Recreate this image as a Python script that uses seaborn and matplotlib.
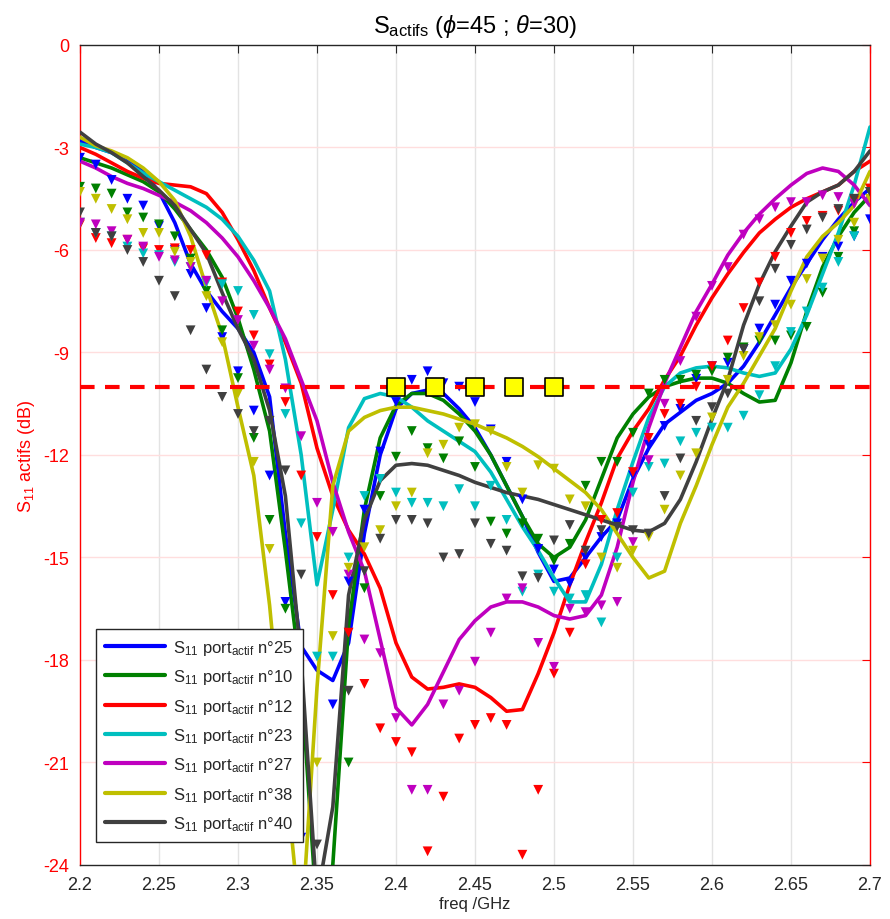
import numpy as np
import pandas as pd
import matplotlib
matplotlib.use("Agg")
import matplotlib.pyplot as plt
from matplotlib.lines import Line2D
import seaborn as sns

# frequences (GHz), un point tous les 10 MHz
freq = np.linspace(2.2, 2.7, 51)

ports = ["25", "10", "12", "23", "27", "38", "40"]
colors = ["#0000ff", "#008000", "#ff0000", "#00bfbf", "#bf00bf", "#bfbf00", "#404040"]

# courbes continues (dB)
curve_25 = [-2.8, -3.0, -3.15, -3.4, -3.7, -4.3, -5.2, -6.4, -7.2, -7.8,
            -8.3, -9.0, -10.3, -14.3, -17.6, -18.3, -18.6, -17.5, -14.3, -12.0,
            -10.65, -10.2, -10.1, -10.2, -10.65, -11.2, -12.0, -12.9, -13.8, -14.85,
            -15.7, -15.6, -15.0, -14.4, -13.9, -12.7, -11.8, -11.1, -10.75, -10.4,
            -10.2, -9.9, -9.4, -8.7, -7.9, -7.1, -6.4, -5.7, -5.1, -4.6, -4.2]
curve_10 = [-3.3, -3.45, -3.6, -3.8, -4.0, -4.3, -4.8, -5.4, -6.0, -6.8,
            -8.0, -9.5, -11.3, -14.8, -18.6, -25.5, -24.0, -17.0, -13.6, -11.5,
            -10.55, -10.2, -10.2, -10.4, -10.8, -11.3, -12.0, -12.9, -13.8, -14.6,
            -15.0, -14.7, -13.9, -12.7, -11.5, -10.8, -10.3, -10.0, -9.85, -9.75,
            -9.75, -9.9, -10.2, -10.45, -10.4, -9.3, -7.8, -6.5, -5.6, -4.9, -4.4]
curve_12 = [-3.0, -3.2, -3.45, -3.7, -3.9, -4.05, -4.1, -4.15, -4.35, -4.9,
            -5.7, -6.6, -7.7, -8.7, -9.9, -11.8, -13.2, -14.2, -14.9, -15.9,
            -17.5, -18.5, -18.85, -18.8, -18.7, -18.8, -19.1, -19.5, -19.45, -18.4,
            -17.2, -15.8, -14.55, -13.4, -12.1, -11.3, -10.65, -9.8, -9.1, -8.2,
            -7.4, -6.7, -6.07, -5.5, -5.1, -4.75, -4.5, -4.3, -4.1, -3.7, -3.4]
curve_23 = [-2.9, -3.0, -3.15, -3.45, -3.75, -4.0, -4.25, -4.5, -4.75, -5.1,
            -5.6, -6.3, -7.2, -9.2, -12.0, -15.8, -13.6, -11.2, -10.35, -10.2,
            -10.3, -10.6, -11.0, -11.3, -11.6, -11.9, -12.5, -13.3, -14.1, -14.8,
            -15.6, -16.3, -16.3, -15.2, -13.6, -12.2, -10.9, -10.0, -9.6, -9.45,
            -9.4, -9.45, -9.6, -9.7, -9.6, -8.9, -7.9, -6.7, -5.5, -4.1, -2.4]
curve_27 = [-3.4, -3.6, -3.85, -4.05, -4.2, -4.4, -4.6, -4.85, -5.2, -5.65,
            -6.2, -6.9, -7.7, -8.6, -9.8, -11.0, -12.8, -14.25, -15.4, -17.4,
            -19.4, -19.9, -19.3, -18.35, -17.4, -16.85, -16.45, -16.3, -16.3, -16.45,
            -16.7, -16.8, -16.7, -16.1, -14.7, -12.8, -11.2, -9.9, -8.85, -7.8,
            -7.0, -6.15, -5.5, -4.95, -4.5, -4.1, -3.76, -3.6, -3.7, -4.1, -4.7]
curve_38 = [-2.7, -2.95, -3.1, -3.3, -3.6, -4.0, -4.55, -5.6, -7.1, -8.5,
            -10.6, -12.6, -16.4, -21.3, -26.0, -18.8, -12.9, -11.3, -10.9, -10.7,
            -10.6, -10.6, -10.7, -10.8, -10.95, -11.1, -11.3, -11.5, -11.75, -12.05,
            -12.4, -12.75, -13.1, -13.6, -14.3, -15.0, -15.6, -15.4, -14.0, -12.9,
            -11.7, -10.6, -9.9, -9.1, -8.3, -7.2, -6.2, -5.6, -5.2, -4.7, -3.7]
curve_40 = [-2.55, -2.9, -3.15, -3.45, -3.85, -4.25, -4.7, -5.4, -6.1, -7.25,
            -8.3, -9.2, -10.7, -13.2, -18.0, -25.0, -22.3, -16.1, -13.9, -12.75,
            -12.3, -12.25, -12.3, -12.45, -12.6, -12.8, -12.95, -13.1, -13.2, -13.3,
            -13.45, -13.6, -13.75, -13.9, -14.05, -14.2, -14.25, -14.0, -13.3, -12.2,
            -10.95, -9.8, -8.2, -7.0, -6.05, -5.3, -4.6, -4.3, -4.1, -3.7, -3.1]

# points mesures (triangles, dB)
pts_25 = [-3.3, -3.5, -3.95, -4.5, -4.7, -5.3, -6.0, -6.7, -7.7, -8.55,
          -9.55, -10.7, -12.6, -16.3, -23.2, -26.0, -19.3, -15.7, -13.6, -11.9,
          -10.45, -9.8, -9.55, -9.9, -10.0, -10.45, -11.25, -12.2, -13.3, -14.75,
          -15.35, -15.75, -15.0, -14.4, -14.0, -12.6, -11.7, -11.15, -10.65, -9.77,
          -9.4, -9.3, -8.9, -8.3, -7.6, -6.9, -6.4, -6.2, -5.9, -5.6, -5.1]
pts_10 = [-4.15, -4.2, -4.35, -4.9, -5.05, -5.25, -5.6, -6.25, -7.2, -8.35,
          -9.75, -11.5, -13.9, -16.5, -26.0, -26.0, -26.0, -21.0, -15.9, -13.2,
          -12.05, -11.3, -11.8, -12.1, -11.6, -12.35, -13.95, -14.3, -14.0, -14.45,
          -15.1, -14.6, -12.9, -12.2, -12.2, -11.35, -10.2, -9.8, -9.8, -9.65,
          -9.55, -9.15, -8.85, -8.65, -8.65, -8.5, -8.25, -7.25, -6.2, -5.45, -4.3]
pts_12 = [-5.25, -5.65, -5.8, -5.7, -5.95, -6.0, -5.95, -6.0, -6.15, -6.95,
          -7.8, -8.5, -9.35, -10.45, -12.6, -14.4, -16.1, -17.2, -18.7, -20.0,
          -20.4, -20.7, -23.6, -22.0, -20.3, -19.9, -19.7, -19.9, -23.7, -21.8,
          -18.4, -17.2, -15.2, -13.9, -13.7, -12.5, -11.5, -10.8, -10.5, -10.0,
          -9.4, -8.65, -7.7, -6.95, -6.2, -5.5, -5.15, -5.0, -4.85, -4.55, -4.2]
pts_23 = [-5.2, -5.5, -5.6, -5.9, -6.1, -6.15, -6.35, -6.5, -6.95, -7.0,
          -7.2, -7.9, -9.05, -10.8, -14.0, -17.9, -17.9, -15.0, -13.2, -12.7,
          -13.1, -13.4, -13.4, -13.5, -13.0, -13.5, -12.9, -13.9, -16.0, -15.5,
          -16.0, -16.2, -16.1, -16.9, -15.0, -13.1, -12.35, -12.25, -11.6, -11.35,
          -11.2, -11.2, -10.85, -10.25, -9.4, -8.4, -7.8, -7.1, -6.35, -5.6, -4.6]
pts_27 = [-5.2, -5.25, -5.45, -5.7, -5.9, -6.2, -6.3, -6.5, -6.9, -7.5,
          -8.05, -8.8, -9.5, -10.05, -11.45, -13.4, -14.25, -15.5, -17.4, -17.8,
          -19.7, -21.8, -21.8, -19.3, -18.9, -18.05, -17.2, -16.2, -15.9, -17.5,
          -18.2, -16.5, -16.6, -16.4, -16.3, -14.55, -12.15, -10.5, -9.25, -7.95,
          -7.05, -6.5, -5.55, -5.1, -4.75, -4.6, -4.6, -4.4, -4.45, -4.65, -4.6]
pts_38 = [-4.3, -4.5, -4.8, -5.1, -5.5, -5.5, -6.05, -6.35, -7.35, -8.7,
          -10.2, -12.2, -14.75, -26.0, -26.0, -21.0, -17.3, -15.3, -14.7, -14.2,
          -13.5, -13.1, -11.95, -11.7, -11.2, -11.1, -11.3, -12.35, -13.1, -12.3,
          -12.4, -13.3, -13.5, -15.0, -15.3, -14.8, -14.4, -13.6, -12.6, -11.95,
          -10.9, -9.8, -9.1, -8.55, -8.2, -7.6, -6.85, -6.25, -5.7, -5.2, -4.5]
pts_40 = [-4.9, -5.5, -5.6, -6.0, -6.35, -6.9, -7.35, -8.35, -9.5, -10.3,
          -10.8, -11.3, -11.0, -12.45, -15.5, -23.4, -26.0, -18.9, -15.4, -14.45,
          -13.9, -13.9, -14.0, -15.0, -14.9, -14.0, -14.6, -14.8, -15.55, -15.6,
          -14.5, -14.05, -14.8, -14.2, -14.1, -14.2, -14.3, -13.2, -12.1, -11.0,
          -10.6, -10.2, -8.9, -7.5, -6.55, -5.85, -5.4, -5.05, -4.8, -4.5, -4.3]

curves = [curve_25, curve_10, curve_12, curve_23, curve_27, curve_38, curve_40]
points = [pts_25, pts_10, pts_12, pts_23, pts_27, pts_38, pts_40]

# bande visee : seuil -10 dB et reperes jaunes
seuil = -10
band_freq = [2.40, 2.425, 2.45, 2.475, 2.50]

labels = [rf"S$_{{11}}$ port$_{{\mathrm{{actif}}}}$ n°{p}" for p in ports]
palette = dict(zip(labels, colors))

df_curve = pd.DataFrame({"freq": np.tile(freq, len(ports)),
                         "s11": np.concatenate(curves),
                         "port": np.repeat(labels, len(freq))})
df_pts = pd.DataFrame({"freq": np.tile(freq, len(ports)),
                       "s11": np.concatenate(points),
                       "port": np.repeat(labels, len(freq))})

sns.set_style("white")
plt.rcParams["font.family"] = ["Liberation Sans", "DejaVu Sans"]
plt.rcParams["mathtext.fontset"] = "custom"
plt.rcParams["mathtext.rm"] = "Liberation Sans"
plt.rcParams["mathtext.it"] = "Liberation Sans:italic"
plt.rcParams["mathtext.bf"] = "Liberation Sans:bold"
plt.rcParams["axes.unicode_minus"] = False

red = "#ff0000"
dark = "#262626"

fig = plt.figure(figsize=(8.9, 9.2), dpi=100)
ax = fig.add_axes([0.0899, 0.0587, 0.8876, 0.8913])

# grille : verticale grise, horizontale rosee (couleur de l'axe y)
for xv in np.arange(2.25, 2.7, 0.05):
    ax.axvline(xv, color="#e3e3e3", lw=1, zorder=0)
for yv in range(-21, 0, 3):
    ax.axhline(yv, color="#ffdede", lw=1, zorder=0)

sns.lineplot(data=df_curve, x="freq", y="s11", hue="port", hue_order=labels,
             palette=palette, estimator=None, sort=False, linewidth=2.6,
             legend=False, ax=ax, zorder=3)
sns.scatterplot(data=df_pts, x="freq", y="s11", hue="port", hue_order=labels,
                palette=palette, marker="v", s=50, linewidth=0,
                legend=False, ax=ax, zorder=4)

ax.axhline(seuil, color=red, lw=3, ls=(0, (3.5, 2.5)), zorder=5)
sns.scatterplot(x=band_freq, y=[seuil] * len(band_freq), marker="s", s=150,
                color="#ffff00", edgecolor="black", linewidth=1.2, ax=ax, zorder=6)

ax.set_xlim(2.2, 2.7)
ax.set_ylim(-24, 0)
xt = [2.2, 2.25, 2.3, 2.35, 2.4, 2.45, 2.5, 2.55, 2.6, 2.65, 2.7]
ax.set_xticks(xt)
ax.set_xticklabels([f"{v:g}" for v in xt])
ax.set_yticks(range(-24, 1, 3))

ax.tick_params(axis="x", direction="in", length=6, top=True, colors=dark,
               labelsize=13, pad=8)
ax.tick_params(axis="y", direction="in", length=6, right=True, colors=red,
               labelsize=13, pad=8)
for side in ["left", "right"]:
    ax.spines[side].set_color(red)
for side in ["top", "bottom"]:
    ax.spines[side].set_color(dark)
for sp in ax.spines.values():
    sp.set_linewidth(1)

ax.set_xlabel("freq /GHz", fontsize=12, color=dark, labelpad=2)
ax.set_ylabel(r"S$_{11}$ actifs (dB)", fontsize=13, color=red, labelpad=4)
ax.set_title(r"S$_{\mathrm{actifs}}$ ($\phi$=45 ; $\theta$=30)", fontsize=17,
             color="black", pad=9)

handles = [Line2D([], [], color=c, lw=3) for c in colors]
leg = ax.legend(handles, labels, loc="lower left", bbox_to_anchor=(0.02, 0.028),
                fontsize=12, frameon=True, fancybox=False, framealpha=1,
                edgecolor=dark, handlelength=3.6, labelspacing=0.62,
                borderpad=0.55, handletextpad=0.5, borderaxespad=0)
leg.get_frame().set_linewidth(1)
leg.set_zorder(10)

plt.savefig("out.png", dpi=100)
